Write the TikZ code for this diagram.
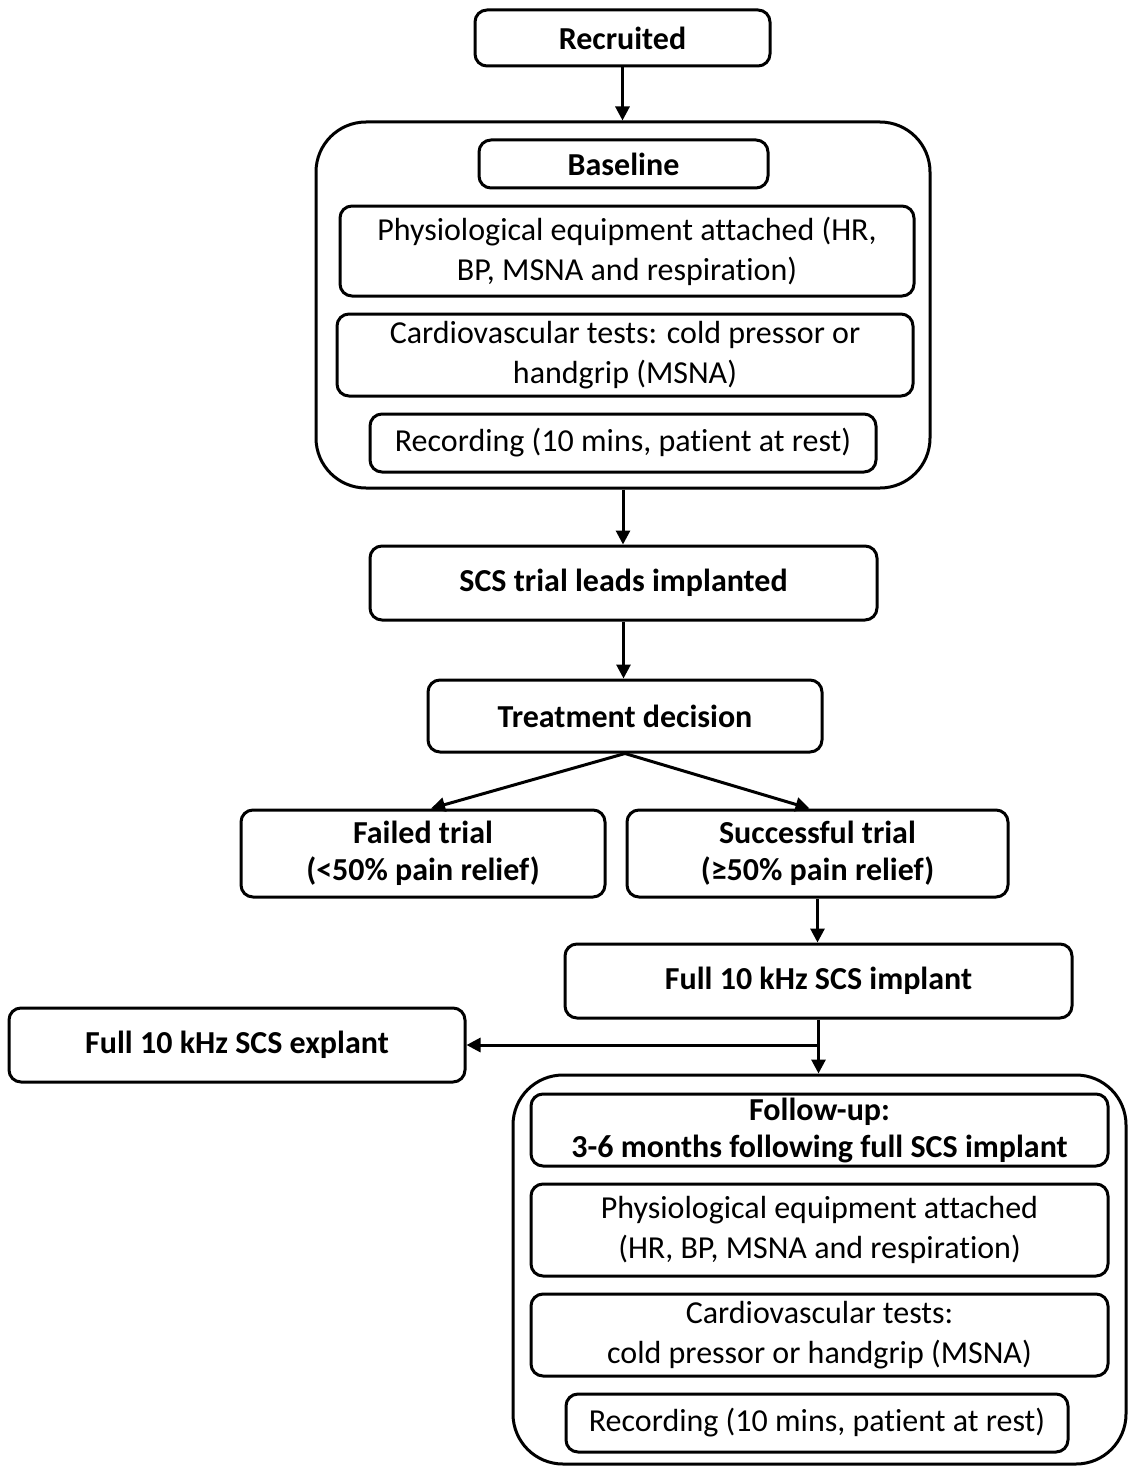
\documentclass[tikz,border=0pt]{standalone}
\usepackage{fontspec}
\setmainfont{Carlito}[Ligatures={NoCommon}]
\usetikzlibrary{arrows.meta}
\begin{document}
\begin{tikzpicture}[x=1pt,y=-1pt,
 box/.style={draw, line width=3pt, rounded corners=12pt, align=center, inner sep=0pt, font=\fontsize{32}{40}\selectfont},
 bbox/.style={box, font=\fontsize{32}{37}\selectfont\bfseries},
 grp/.style={draw, line width=3pt, rounded corners=50pt, inner sep=0pt},
 arr/.style={line width=3pt, -{Triangle[length=14pt,width=14pt]}}]
\useasboundingbox (0,0) rectangle (1128,1466);
% top part
\node[bbox, minimum width=295pt, minimum height=56pt] (rec) at (622.5,38) {Recruited};
\node[grp, minimum width=614pt, minimum height=366pt] (big1) at (623,305) {};
\node[bbox, minimum width=289pt, minimum height=48pt] (base) at (623.5,164) {Baseline};
\node[box, minimum width=574pt, minimum height=90pt] (phys1) at (627,251) {Physiological equipment attached (HR,\\BP, MSNA and respiration)};
\node[box, minimum width=576pt, minimum height=82pt] (cardio1) at (625,355) {Cardiovascular tests: cold pressor or\\handgrip (MSNA)};
\node[box, minimum width=506pt, minimum height=58pt] (rec1) at (623,443) {Recording (10 mins, patient at rest)};
\node[bbox, minimum width=507pt, minimum height=74pt] (scs) at (623.5,583) {SCS trial leads implanted};
\node[bbox, minimum width=394pt, minimum height=72pt] (treat) at (625,716) {Treatment decision};
\node[bbox, minimum width=364pt, minimum height=87pt] (fail) at (423,853.5) {Failed trial\\(<50\% pain relief)};
\node[bbox, minimum width=381pt, minimum height=87pt] (succ) at (817.5,853.5) {Successful trial\\(≥50\% pain relief)};
\node[bbox, minimum width=507pt, minimum height=74pt] (impl) at (818.5,981) {Full 10 kHz SCS implant};
\node[bbox, minimum width=456pt, minimum height=74pt] (expl) at (237,1045) {Full 10 kHz SCS explant};
% follow-up group
\node[grp, minimum width=613pt, minimum height=389pt] (big2) at (819.5,1269.5) {};
\node[bbox, minimum width=577pt, minimum height=72pt] (fu) at (819.5,1130) {Follow-up:\\3-6 months following full SCS implant};
\node[box, minimum width=577pt, minimum height=92pt] (phys2) at (819.5,1230) {Physiological equipment attached\\(HR, BP, MSNA and respiration)};
\node[box, minimum width=577pt, minimum height=82pt] (cardio2) at (819.5,1335) {Cardiovascular tests:\\cold pressor or handgrip (MSNA)};
\node[box, minimum width=502pt, minimum height=58pt] (rec2) at (817,1423) {Recording (10 mins, patient at rest)};
% connectors
\draw[arr] (rec.south) -- (rec.south |- big1.north);
\draw[arr] (big1.south) -- (big1.south |- scs.north);
\draw[arr] (scs.south) -- (scs.south |- treat.north);
\draw[arr] (treat.south) -- ([xshift=8pt]fail.north);
\draw[arr] (treat.south) -- ([xshift=-8pt]succ.north);
\draw[arr] (succ.south) -- (succ.south |- impl.north);
\draw[arr] (impl.south) -- (impl.south |- big2.north);
\coordinate (br) at (impl.south |- expl.east);
\draw[arr] (br) -- (expl.east);
\end{tikzpicture}
\end{document}
